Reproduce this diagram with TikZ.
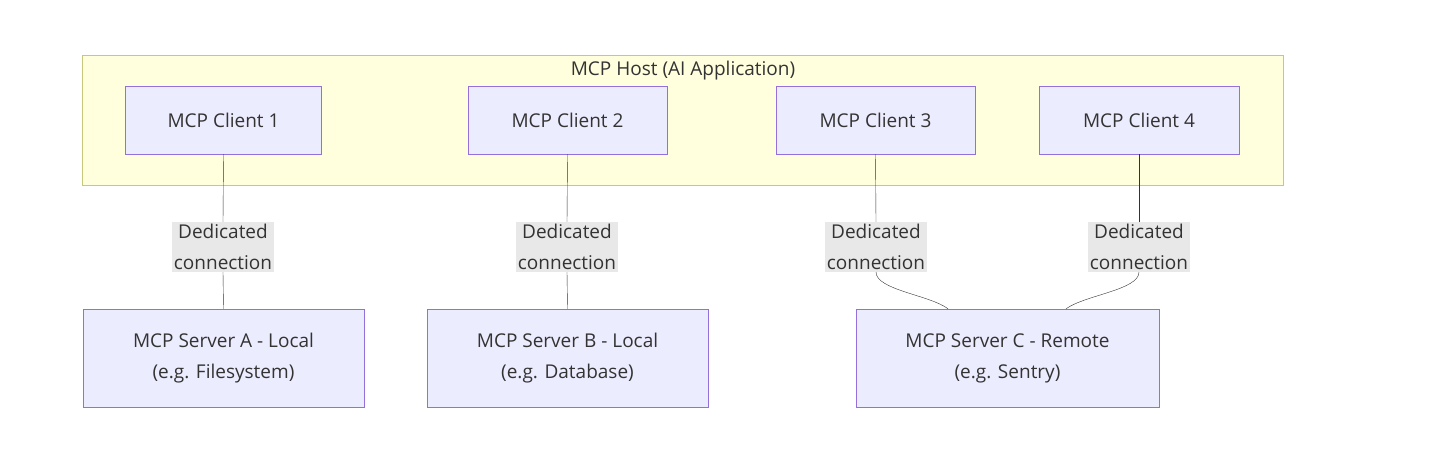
\documentclass[tikz,border=0pt]{standalone}
\usepackage{fontspec}
\setmainfont{Open Sans}
\usepackage{tikz}
\usetikzlibrary{arrows}
\usetikzlibrary{fit,positioning,backgrounds}
\definecolor{hostfill}{HTML}{FFFFDE}
\definecolor{hostline}{HTML}{C8C87A}
\definecolor{nodefill}{HTML}{ECECFF}
\definecolor{nodeline}{HTML}{9370DB}
\definecolor{labfill}{HTML}{E8E8E8}
\begin{document}
\begin{tikzpicture}[x=1pt, y=-1pt, font=\fontsize{19}{31}\selectfont, text=black!80]
		\tikzstyle{client}=[rectangle, fill=nodefill, draw=nodeline, minimum width=196pt, minimum height=68pt, inner sep=0pt]
		\tikzstyle{server}=[rectangle, fill=nodefill, draw=nodeline, minimum height=98pt, inner sep=0pt, align=center]
		\tikzstyle{lab}=[rectangle, fill=labfill, inner sep=2pt, align=center]
		\tikzstyle{connect}=[thin, draw=black!80]
		\useasboundingbox (0,0) rectangle (1434,464);
		\node[rectangle, fill=hostfill, draw=hostline, minimum width=1201pt, minimum height=130pt] (host) at (682.5,120) {};
		\node (title) at (683,71) {MCP Host (AI Application)};
		\node[client] (c1) at (223.5,120) {MCP Client 1};
		\node[client, minimum width=199pt] (c2) at (567.5,120) {MCP Client 2};
		\node[client, minimum width=199pt] (c3) at (875.5,120) {MCP Client 3};
		\node[client, minimum width=200pt] (c4) at (1139,120) {MCP Client 4};
		\node[server, minimum width=281pt] (sa) at (223.5,358) {MCP Server A - Local\\(e.g. Filesystem)};
		\node[server, minimum width=281pt] (sb) at (567.5,358) {MCP Server B - Local\\(e.g. Database)};
		\node[server, minimum width=303pt] (sc) at (1007.5,358) {MCP Server C - Remote\\(e.g. Sentry)};
		\node[lab] (l1) at (223,247) {Dedicated\\connection};
		\node[lab] (l2) at (567,247) {Dedicated\\connection};
		\node[lab] (l3) at (876,247) {Dedicated\\connection};
		\node[lab] (l4) at (1139,247) {Dedicated\\connection};
		\path
		(c1.south) edge [connect] (l1.north)
		(l1.south) edge [connect] (sa.north)
		(c2.south) edge [connect] (l2.north)
		(l2.south) edge [connect] (sb.north)
		(c3.south) edge [connect] (l3.north)
		(c4.south) edge [connect] (l4.north)
		;
		\draw[connect] (l3.south) .. controls (876,290) and (930,295) .. (sc.north -| 948,0);
		\draw[connect] (l4.south) .. controls (1139,290) and (1085,295) .. (sc.north -| 1066,0);
	\end{tikzpicture}
\end{document}
